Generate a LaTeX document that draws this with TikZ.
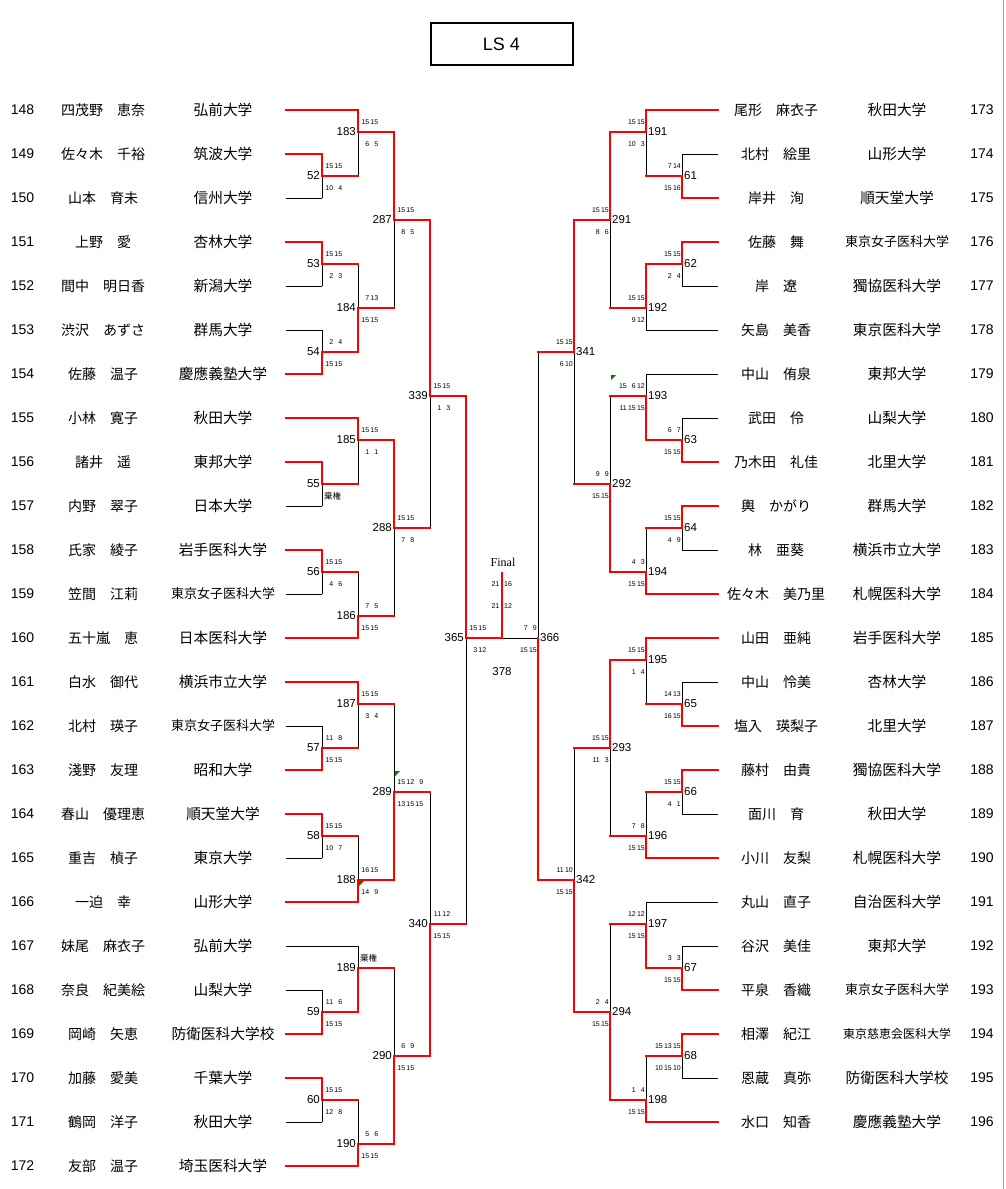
\documentclass[tikz,border=0pt]{standalone}
\usepackage{fontspec}
\setmainfont{Liberation Sans}
\newfontfamily\cjk{Noto Sans CJK JP}
\newfontfamily\serifj{Liberation Serif}
\pgfdeclarelayer{paper}
\pgfdeclarelayer{bg}
\pgfsetlayers{paper,bg,main}
\tikzset{
 win/.style={draw=red, line width=2.2pt, line cap=rect},
 lose/.style={draw=black, line width=1pt},
 num/.style={font=\fontsize{14}{14}\selectfont, inner sep=0pt},
 nm/.style={font=\cjk\fontsize{14}{14}\selectfont, inner sep=0pt},
 un/.style={font=\cjk\fontsize{14.7}{14.7}\selectfont, inner sep=0pt},
 mlab/.style={font=\fontsize{11.5}{12}\selectfont, inner sep=0pt},
 sc/.style={font=\fontsize{7}{7}\selectfont, inner sep=0pt},
 flag/.style={fill=green!50!black, draw=none},
}
\newcommand{\cel}[1]{\makebox[9pt][r]{#1}}
\newcommand{\Sc}[2]{\cel{#1}\cel{#2}}
\newcommand{\Sct}[3]{\cel{#1}\cel{#2}\cel{#3}}
\newcommand{\KK}{{\cjk\fontsize{8.5}{8.5}\selectfont 棄権}}
\newcommand{\smf}[1]{{\fontsize{13}{13}\selectfont #1}}
\newcommand{\xsmf}[1]{{\fontsize{12}{12}\selectfont #1}}
\def\tp{T}
% left match: id x ytop yout ybot T/B upper lower
\newcommand{\LM}[8]{%
 \def\wside{#6}%
 \ifx\wside\tp
  \begin{pgfonlayer}{bg}\draw[lose] (#2,#4) -- (#2,#5);\end{pgfonlayer}
  \draw[win] (#2,#3) -- (#2,#4) -- ({#2+36},#4);
 \else
  \begin{pgfonlayer}{bg}\draw[lose] (#2,#3) -- (#2,#4);\end{pgfonlayer}
  \draw[win] (#2,#5) -- (#2,#4) -- ({#2+36},#4);
 \fi
 \node[mlab,anchor=east] (n#1) at ({#2-2},#4) {#1};
 \node[sc,anchor=west] (su#1) at ({#2+2},{#4-10}) {#7};
 \node[sc,anchor=west] (sl#1) at ({#2+2},{#4+12}) {#8};
}
% right match
\newcommand{\RM}[8]{%
 \def\wside{#6}%
 \ifx\wside\tp
  \begin{pgfonlayer}{bg}\draw[lose] (#2,#4) -- (#2,#5);\end{pgfonlayer}
  \draw[win] (#2,#3) -- (#2,#4) -- ({#2-36},#4);
 \else
  \begin{pgfonlayer}{bg}\draw[lose] (#2,#3) -- (#2,#4);\end{pgfonlayer}
  \draw[win] (#2,#5) -- (#2,#4) -- ({#2-36},#4);
 \fi
 \node[mlab,anchor=west] (n#1) at ({#2+2},#4) {#1};
 \node[sc,anchor=east] (su#1) at ({#2-1},{#4-10}) {#7};
 \node[sc,anchor=east] (sl#1) at ({#2-1},{#4+12}) {#8};
}
% left player: num y name univ xend style
\newcommand{\LP}[6]{%
 \node[num] (p#1) at (22.5,#2) {#1};
 \node[nm] (a#1) at (103,#2) {#3};
 \node[un] (u#1) at (223,#2) {#4};
 \begin{pgfonlayer}{bg}\draw[#6] (286,#2) -- (#5,#2);\end{pgfonlayer}
}
\newcommand{\RP}[6]{%
 \node[nm] (a#1) at (776,#2) {#3};
 \node[un] (u#1) at (897,#2) {#4};
 \node[num] (p#1) at (982,#2) {#1};
 \begin{pgfonlayer}{bg}\draw[#6] (#5,#2) -- (718,#2);\end{pgfonlayer}
}
\begin{document}
\begin{tikzpicture}[x=1pt,y=-1pt]
\begin{pgfonlayer}{paper}
\fill[white] (0,0) rectangle (1005,1189);
\end{pgfonlayer}
\useasboundingbox (0,0) rectangle (1005,1189);
\draw[gray!70, line width=1pt] (1003.5,0) -- (1003.5,1189);
\node[draw, line width=2pt, minimum width=142pt, minimum height=42pt, inner sep=0pt, font=\fontsize{18}{18}\selectfont] (title) at (501.5,44) {LS 4};

% left players
\LP{148}{110}{四茂野　恵奈}{弘前大学}{358}{win}
\LP{149}{154}{佐々木　千裕}{筑波大学}{322}{win}
\LP{150}{198}{山本　育未}{信州大学}{322}{lose}
\LP{151}{242}{上野　愛}{杏林大学}{322}{win}
\LP{152}{286}{間中　明日香}{新潟大学}{322}{lose}
\LP{153}{330}{渋沢　あずさ}{群馬大学}{322}{lose}
\LP{154}{374}{佐藤　温子}{慶應義塾大学}{322}{win}
\LP{155}{418}{小林　寛子}{秋田大学}{358}{win}
\LP{156}{462}{諸井　遥}{東邦大学}{322}{win}
\LP{157}{506}{内野　翠子}{日本大学}{322}{lose}
\LP{158}{550}{氏家　綾子}{岩手医科大学}{322}{win}
\LP{159}{594}{笠間　江莉}{\smf{東京女子医科大学}}{322}{lose}
\LP{160}{638}{五十嵐　恵}{日本医科大学}{358}{win}
\LP{161}{682}{白水　御代}{横浜市立大学}{358}{win}
\LP{162}{726}{北村　瑛子}{\smf{東京女子医科大学}}{322}{lose}
\LP{163}{770}{淺野　友理}{昭和大学}{322}{win}
\LP{164}{814}{春山　優理恵}{順天堂大学}{322}{win}
\LP{165}{858}{重吉　楨子}{東京大学}{322}{lose}
\LP{166}{902}{一迫　幸}{山形大学}{358}{win}
\LP{167}{946}{妹尾　麻衣子}{弘前大学}{358}{lose}
\LP{168}{990}{奈良　紀美絵}{山梨大学}{322}{lose}
\LP{169}{1034}{岡崎　矢恵}{防衛医科大学校}{322}{win}
\LP{170}{1078}{加藤　愛美}{千葉大学}{322}{win}
\LP{171}{1122}{鶴岡　洋子}{秋田大学}{322}{lose}
\LP{172}{1166}{友部　温子}{埼玉医科大学}{358}{win}

% right players
\RP{173}{110}{尾形　麻衣子}{秋田大学}{646}{win}
\RP{174}{154}{北村　絵里}{山形大学}{682}{lose}
\RP{175}{198}{岸井　洵}{順天堂大学}{682}{win}
\RP{176}{242}{佐藤　舞}{\smf{東京女子医科大学}}{682}{win}
\RP{177}{286}{岸　遼}{獨協医科大学}{682}{lose}
\RP{178}{330}{矢島　美香}{東京医科大学}{646}{lose}
\RP{179}{374}{中山　侑泉}{東邦大学}{646}{lose}
\RP{180}{418}{武田　伶}{山梨大学}{682}{lose}
\RP{181}{462}{乃木田　礼佳}{北里大学}{682}{win}
\RP{182}{506}{輿　かがり}{群馬大学}{682}{win}
\RP{183}{550}{林　亜葵}{横浜市立大学}{682}{lose}
\RP{184}{594}{佐々木　美乃里}{札幌医科大学}{646}{win}
\RP{185}{638}{山田　亜純}{岩手医科大学}{646}{win}
\RP{186}{682}{中山　怜美}{杏林大学}{682}{lose}
\RP{187}{726}{塩入　瑛梨子}{北里大学}{682}{win}
\RP{188}{770}{藤村　由貴}{獨協医科大学}{682}{win}
\RP{189}{814}{面川　育}{秋田大学}{682}{lose}
\RP{190}{858}{小川　友梨}{札幌医科大学}{646}{win}
\RP{191}{902}{丸山　直子}{自治医科大学}{646}{lose}
\RP{192}{946}{谷沢　美佳}{東邦大学}{682}{lose}
\RP{193}{990}{平泉　香織}{\smf{東京女子医科大学}}{682}{win}
\RP{194}{1034}{相澤　紀江}{\xsmf{東京慈恵会医科大学}}{682}{win}
\RP{195}{1078}{恩蔵　真弥}{防衛医科大学校}{682}{lose}
\RP{196}{1122}{水口　知香}{慶應義塾大学}{646}{win}

% left matches
\LM{52}{322}{154}{176}{198}{T}{\Sc{15}{15}}{\Sc{10}{4}}
\LM{53}{322}{242}{264}{286}{T}{\Sc{15}{15}}{\Sc{2}{3}}
\LM{54}{322}{330}{352}{374}{B}{\Sc{2}{4}}{\Sc{15}{15}}
\LM{55}{322}{462}{484}{506}{T}{}{\KK}
\LM{56}{322}{550}{572}{594}{T}{\Sc{15}{15}}{\Sc{4}{6}}
\LM{57}{322}{726}{748}{770}{B}{\Sc{11}{8}}{\Sc{15}{15}}
\LM{58}{322}{814}{836}{858}{T}{\Sc{15}{15}}{\Sc{10}{7}}
\LM{59}{322}{990}{1012}{1034}{B}{\Sc{11}{6}}{\Sc{15}{15}}
\LM{60}{322}{1078}{1100}{1122}{T}{\Sc{15}{15}}{\Sc{12}{8}}
\LM{183}{358}{110}{132}{176}{T}{\Sc{15}{15}}{\Sc{6}{5}}
\LM{184}{358}{264}{308}{352}{B}{\Sc{7}{13}}{\Sc{15}{15}}
\LM{185}{358}{418}{440}{484}{T}{\Sc{15}{15}}{\Sc{1}{1}}
\LM{186}{358}{572}{616}{638}{B}{\Sc{7}{5}}{\Sc{15}{15}}
\LM{187}{358}{682}{704}{748}{T}{\Sc{15}{15}}{\Sc{3}{4}}
\LM{188}{358}{836}{880}{902}{B}{\Sc{16}{15}}{\Sc{14}{9}}
\LM{189}{358}{946}{968}{1012}{B}{\KK}{}
\LM{190}{358}{1100}{1144}{1166}{B}{\Sc{5}{6}}{\Sc{15}{15}}
\LM{287}{394}{132}{220}{308}{T}{\Sc{15}{15}}{\Sc{8}{5}}
\LM{288}{394}{440}{528}{616}{T}{\Sc{15}{15}}{\Sc{7}{8}}
\LM{289}{394}{704}{792}{880}{B}{\Sct{15}{12}{9}}{\Sct{13}{15}{15}}
\LM{290}{394}{968}{1056}{1144}{B}{\Sc{6}{9}}{\Sc{15}{15}}
\LM{339}{430}{220}{396}{528}{T}{\Sc{15}{15}}{\Sc{1}{3}}
\LM{340}{430}{792}{924}{1056}{B}{\Sc{11}{12}}{\Sc{15}{15}}
\LM{365}{466}{396}{638}{924}{T}{\Sc{15}{15}}{\Sc{3}{12}}

% right matches
\RM{61}{682}{154}{176}{198}{B}{\Sc{7}{14}}{\Sc{15}{16}}
\RM{62}{682}{242}{264}{286}{T}{\Sc{15}{15}}{\Sc{2}{4}}
\RM{63}{682}{418}{440}{462}{B}{\Sc{6}{7}}{\Sc{15}{15}}
\RM{64}{682}{506}{528}{550}{T}{\Sc{15}{15}}{\Sc{4}{9}}
\RM{65}{682}{682}{704}{726}{B}{\Sc{14}{13}}{\Sc{16}{15}}
\RM{66}{682}{770}{792}{814}{T}{\Sc{15}{15}}{\Sc{4}{1}}
\RM{67}{682}{946}{968}{990}{B}{\Sc{3}{3}}{\Sc{15}{15}}
\RM{68}{682}{1034}{1056}{1078}{T}{\Sct{15}{13}{15}}{\Sct{10}{15}{10}}
\RM{191}{646}{110}{132}{176}{T}{\Sc{15}{15}}{\Sc{10}{3}}
\RM{192}{646}{264}{308}{330}{T}{\Sc{15}{15}}{\Sc{9}{12}}
\RM{193}{646}{374}{396}{440}{B}{\Sct{15}{6}{12}}{\Sct{11}{15}{15}}
\RM{194}{646}{528}{572}{594}{B}{\Sc{4}{3}}{\Sc{15}{15}}
\RM{195}{646}{638}{660}{704}{T}{\Sc{15}{15}}{\Sc{1}{4}}
\RM{196}{646}{792}{836}{858}{B}{\Sc{7}{8}}{\Sc{15}{15}}
\RM{197}{646}{902}{924}{968}{B}{\Sc{12}{12}}{\Sc{15}{15}}
\RM{198}{646}{1056}{1100}{1122}{B}{\Sc{1}{4}}{\Sc{15}{15}}
\RM{291}{610}{132}{220}{308}{T}{\Sc{15}{15}}{\Sc{8}{6}}
\RM{292}{610}{396}{484}{572}{B}{\Sc{9}{9}}{\Sc{15}{15}}
\RM{293}{610}{660}{748}{836}{T}{\Sc{15}{15}}{\Sc{11}{3}}
\RM{294}{610}{924}{1012}{1100}{B}{\Sc{2}{4}}{\Sc{15}{15}}
\RM{341}{574}{220}{352}{484}{T}{\Sc{15}{15}}{\Sc{6}{10}}
\RM{342}{574}{748}{880}{1012}{B}{\Sc{11}{10}}{\Sc{15}{15}}

% semifinal 366 and final
\coordinate (m366) at (538,638);
\coordinate (fin) at (502,638);
\coordinate (fintop) at (502,573);
\begin{pgfonlayer}{bg}\draw[lose] (538,352) -- (m366) -- (fin);\end{pgfonlayer}
\draw[win] (538,880) -- (m366);
\draw[win] (fintop) -- (fin);
\node[mlab,anchor=west] (n366) at (540,638) {366};
\node[sc,anchor=east] (su366) at (537,628) {\Sc{7}{9}};
\node[sc,anchor=east] (sl366) at (537,650) {\Sc{15}{15}};
\node[font=\serifj\fontsize{12}{12}\selectfont, inner sep=0pt] (final) at (503,562) {Final};
\node[sc,anchor=east] (f1a) at (499.5,584) {21};
\node[sc,anchor=west] (f1b) at (504,584) {16};
\node[sc,anchor=east] (f2a) at (499.5,606) {21};
\node[sc,anchor=west] (f2b) at (504,606) {12};
\node[mlab] (n378) at (502,672) {378};

% comment markers
\fill[flag] (395,771) -- (400,771) -- (395,776) -- cycle;
\fill[flag] (359,881) -- (364,881) -- (359,886) -- cycle;
\fill[flag] (611,375) -- (616,375) -- (611,380) -- cycle;
\end{tikzpicture}
\end{document}
